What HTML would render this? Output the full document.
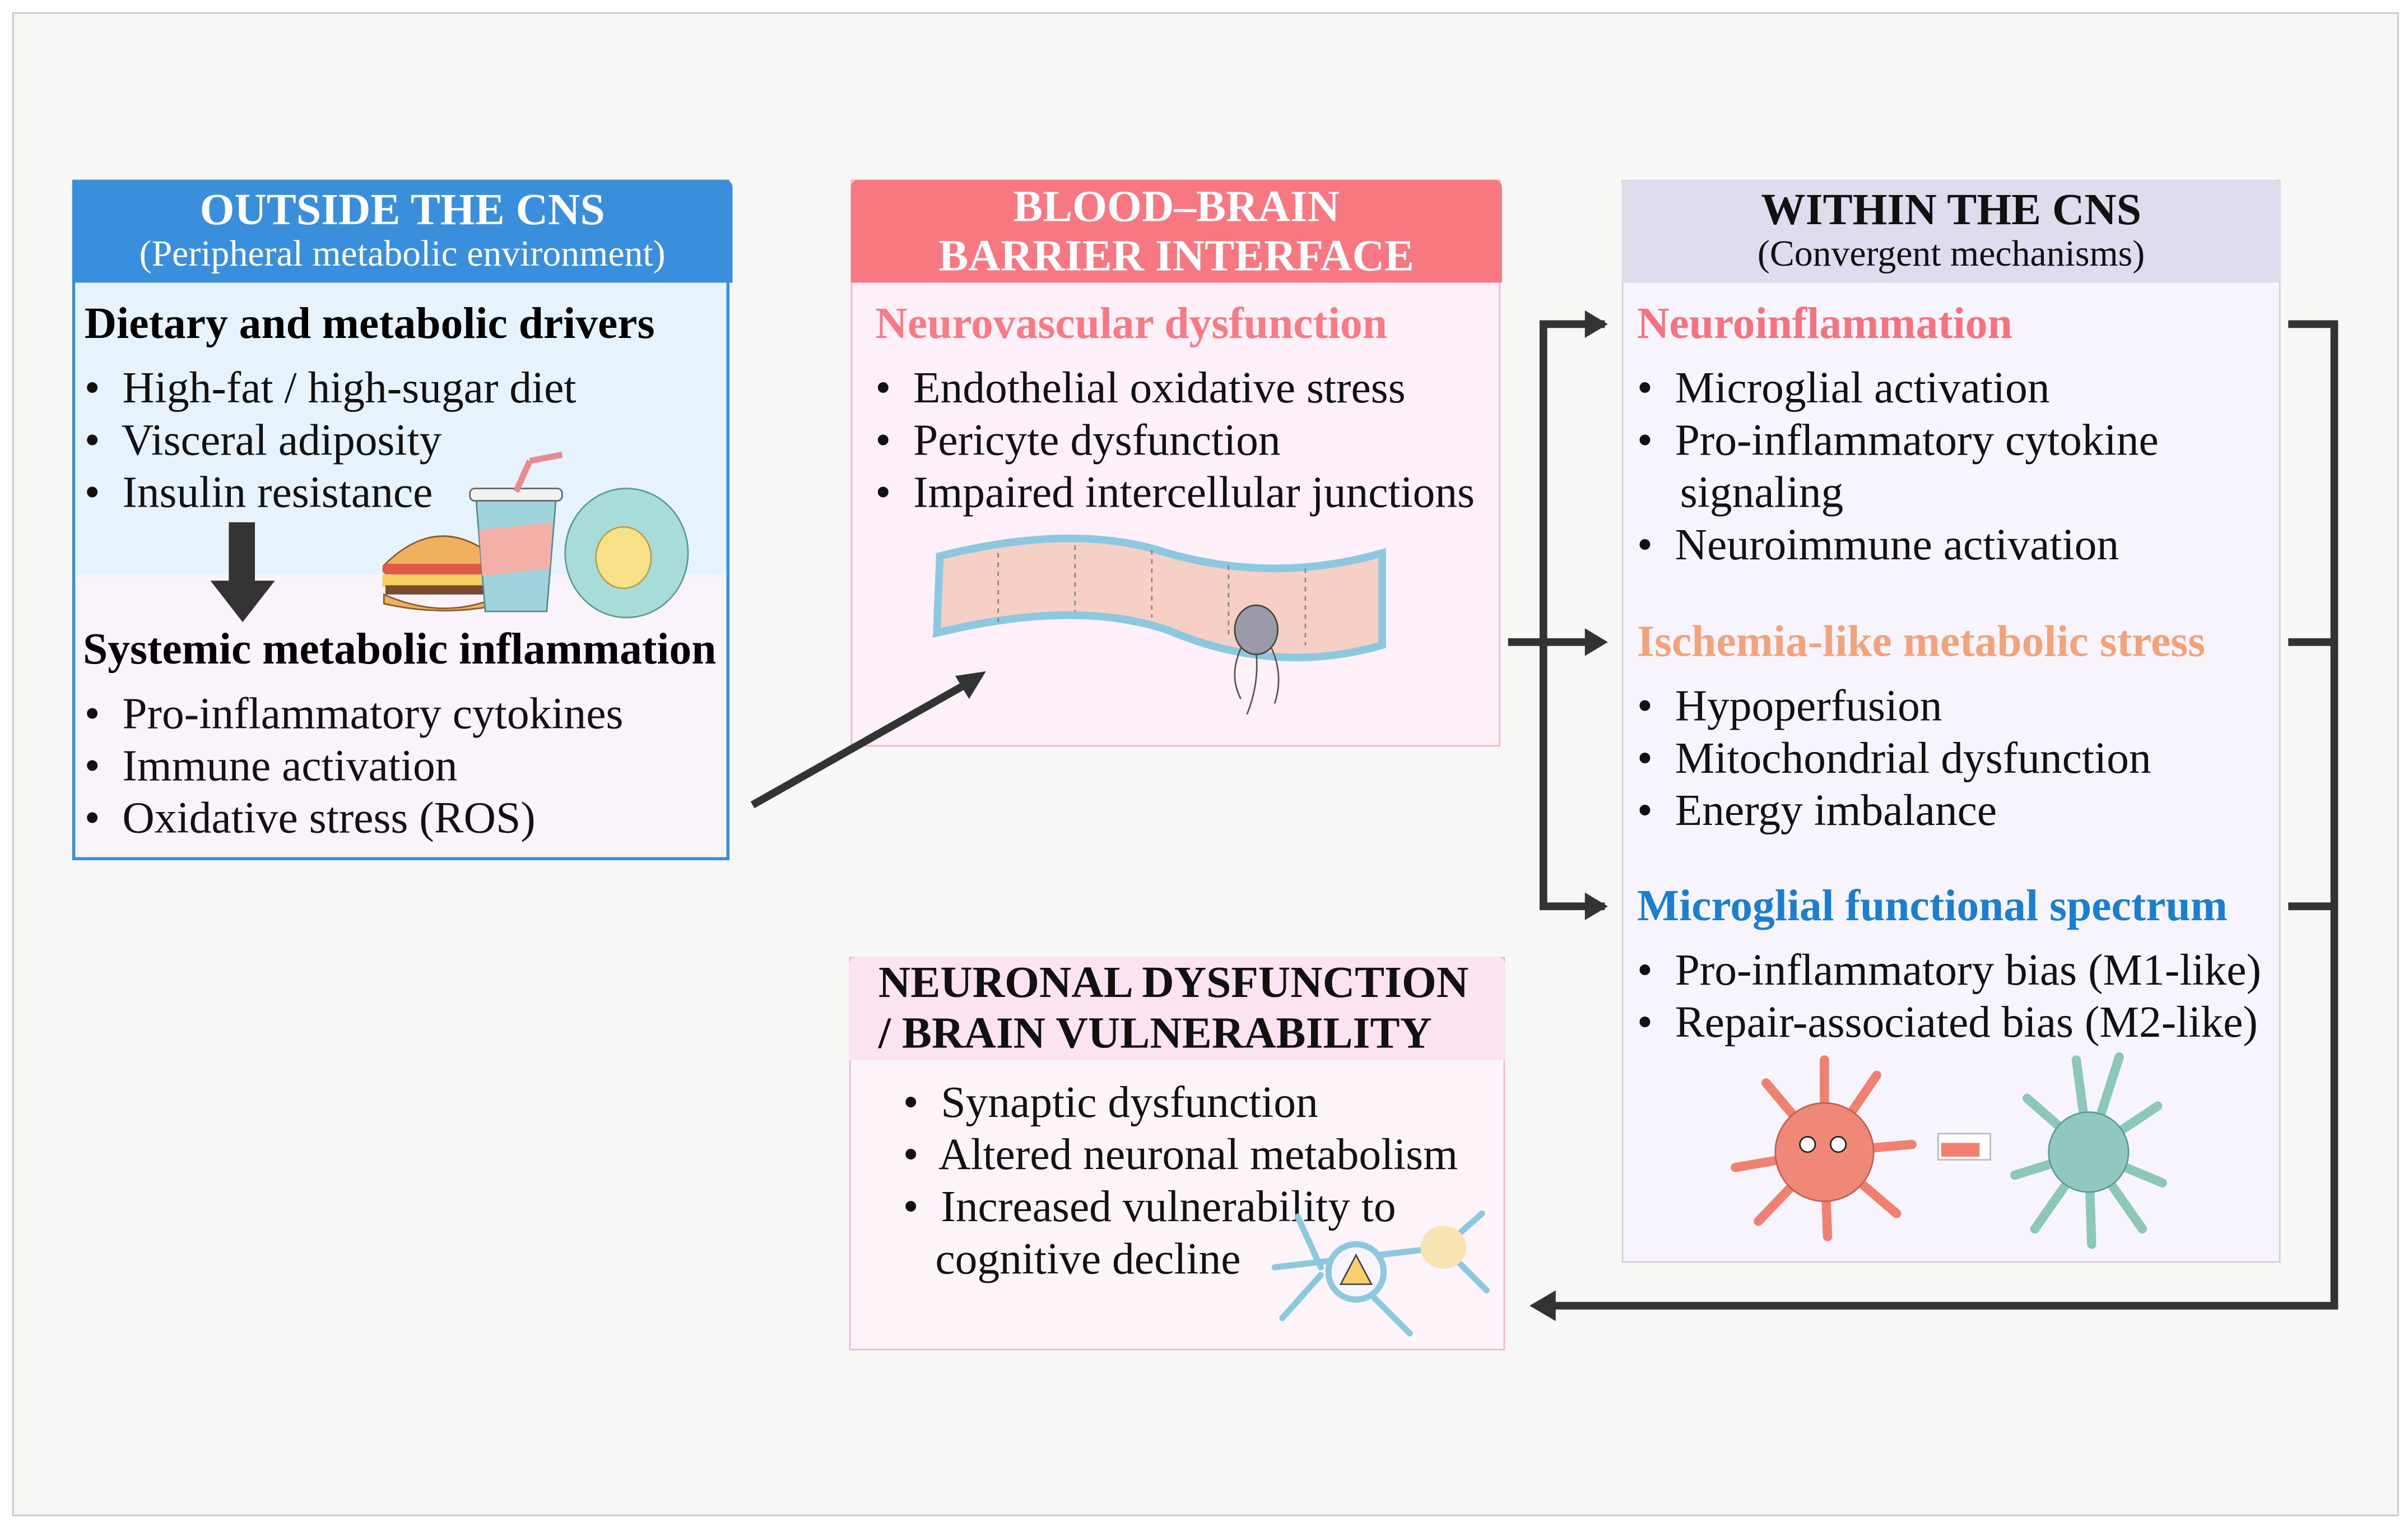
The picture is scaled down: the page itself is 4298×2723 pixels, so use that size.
<!DOCTYPE html>
<html><head><meta charset="utf-8"><style>
html,body{margin:0;padding:0;background:#fff;}
#w{width:4298px;height:2723px;overflow:hidden;position:relative;background:#fff;}
#s{position:absolute;left:0;top:0;width:1568px;height:993px;transform:scale(2.7411);transform-origin:0 0;font-family:"Liberation Serif",serif;}
.a{position:absolute;white-space:nowrap;}
.t{font-size:29px;line-height:34px;color:#111;}
.h{font-size:29px;line-height:34px;font-weight:bold;}
.hd{position:absolute;text-align:center;color:#fff;border-radius:5px 5px 0 0;}
</style></head><body><div id="w"><div id="s">
<div class="a" style="left:8px;top:8px;width:1552px;height:977px;border:1.5px solid #c8c8c8;background:#f7f7f5;"></div>

<!-- Left box -->
<div class="a" style="left:47px;top:117px;width:428px;height:443px;border:2px solid #3a8fdc;box-sizing:border-box;background:#faf3fb;"></div>
<div class="a" style="left:49px;top:184px;width:424px;height:190px;background:#e6f3fc;"></div>
<div class="hd" style="left:47px;top:117px;width:430px;height:67px;background:#3a8fdc;">
<div style="font-size:29px;font-weight:bold;line-height:30px;margin-top:5px;">OUTSIDE THE CNS</div>
<div style="font-size:24px;line-height:28px;">(Peripheral metabolic environment)</div></div>
<div class="a h" style="left:55px;top:194px;">Dietary and metabolic drivers</div>
<div class="a t" style="left:55px;top:236px;">•&nbsp; High-fat / high-sugar diet</div>
<div class="a t" style="left:55px;top:270px;">•&nbsp; Visceral adiposity</div>
<div class="a t" style="left:55px;top:304px;">•&nbsp; Insulin resistance</div>
<div class="a h" style="left:54px;top:406px;">Systemic metabolic inflammation</div>
<div class="a t" style="left:55px;top:448px;">•&nbsp; Pro-inflammatory cytokines</div>
<div class="a t" style="left:55px;top:482px;">•&nbsp; Immune activation</div>
<div class="a t" style="left:55px;top:516px;">•&nbsp; Oxidative stress (ROS)</div>
<svg class="a" style="left:0;top:0" width="1568" height="993">
<rect x="149" y="340" width="17" height="40" fill="#333"/><polygon points="137,378 179,378 158,405" fill="#333"/>
<path d="M250 368 Q288 330 328 368 Z" fill="#f0b060" stroke="#8a5a30"/>
<rect x="249" y="367" width="80" height="7" rx="3" fill="#e05a4a"/>
<rect x="249" y="374" width="80" height="8" fill="#f5d060"/>
<rect x="251" y="381" width="76" height="6" fill="#7a4a30"/>
<path d="M250 387 Q290 405 328 387 L328 393 Q290 402 250 393Z" fill="#f0b060" stroke="#8a5a30"/>
<polygon points="310,325 362,325 356,398 316,398" fill="#9fd4dc" stroke="#5a8a90"/>
<polygon points="312,345 360,340 358,370 314,375" fill="#f4b0a8"/>
<rect x="306" y="318" width="60" height="8" rx="3" fill="#f2f2f2" stroke="#666"/>
<line x1="336" y1="320" x2="345" y2="300" stroke="#e88a90" stroke-width="4"/><line x1="345" y1="300" x2="366" y2="296" stroke="#e88a90" stroke-width="4"/>
<ellipse cx="408" cy="360" rx="40" ry="42" fill="#a8dcd8" stroke="#5a9a98"/>
<ellipse cx="406" cy="363" rx="18" ry="20" fill="#f6e08a" stroke="#b8a050"/>
</svg>

<!-- Middle box -->
<div class="a" style="left:554px;top:117px;width:423px;height:369px;border:1.5px solid #f2b4cc;box-sizing:border-box;background:#fdf0f8;"></div>
<div class="hd" style="left:554px;top:117px;width:424px;height:67px;background:#f77880;">
<div style="font-size:29px;font-weight:bold;line-height:32px;margin-top:2px;">BLOOD–BRAIN<br>BARRIER INTERFACE</div></div>
<div class="a h" style="left:570px;top:194px;color:#f77a85;">Neurovascular dysfunction</div>
<div class="a t" style="left:570px;top:236px;">•&nbsp; Endothelial oxidative stress</div>
<div class="a t" style="left:570px;top:270px;">•&nbsp; Pericyte dysfunction</div>
<div class="a t" style="left:570px;top:304px;">•&nbsp; Impaired intercellular junctions</div>
<svg class="a" style="left:0;top:0" width="1568" height="993">
<path d="M612 362 Q700 340 760 360 Q830 380 900 360 L900 420 Q830 440 760 410 Q700 390 610 412Z" fill="#f6d0c4" stroke="#8cc8e0" stroke-width="5"/>
<g stroke="#888" stroke-dasharray="3,3"><line x1="650" y1="360" x2="650" y2="405"/><line x1="700" y1="355" x2="700" y2="398"/><line x1="750" y1="358" x2="750" y2="402"/><line x1="800" y1="368" x2="800" y2="415"/><line x1="850" y1="370" x2="850" y2="420"/></g>
<ellipse cx="818" cy="410" rx="14" ry="16" fill="#9a9aa8" stroke="#444"/>
<g stroke="#555" fill="none"><path d="M808 422 Q800 440 808 455"/><path d="M818 425 Q820 445 812 465"/><path d="M828 422 Q836 440 830 458"/></g>
</svg>

<!-- Right box -->
<div class="a" style="left:1056px;top:117px;width:429px;height:705px;border:1.5px solid #d4cce8;box-sizing:border-box;background:#f7f4fd;"></div>
<div class="hd" style="left:1056px;top:117px;width:429px;height:67px;background:#e0dcee;color:#111;">
<div style="font-size:29px;font-weight:bold;line-height:30px;margin-top:5px;">WITHIN THE CNS</div>
<div style="font-size:24px;line-height:28px;">(Convergent mechanisms)</div></div>
<div class="a h" style="left:1066px;top:194px;color:#f7727f;">Neuroinflammation</div>
<div class="a t" style="left:1066px;top:236px;">•&nbsp; Microglial activation</div>
<div class="a t" style="left:1066px;top:270px;">•&nbsp; Pro-inflammatory cytokine</div>
<div class="a t" style="left:1094px;top:304px;">signaling</div>
<div class="a t" style="left:1066px;top:338px;">•&nbsp; Neuroimmune activation</div>
<div class="a h" style="left:1066px;top:401px;color:#f4a27a;">Ischemia-like metabolic stress</div>
<div class="a t" style="left:1066px;top:443px;">•&nbsp; Hypoperfusion</div>
<div class="a t" style="left:1066px;top:477px;">•&nbsp; Mitochondrial dysfunction</div>
<div class="a t" style="left:1066px;top:511px;">•&nbsp; Energy imbalance</div>
<div class="a h" style="left:1066px;top:573px;color:#1a7fd0;">Microglial functional spectrum</div>
<div class="a t" style="left:1066px;top:615px;">•&nbsp; Pro-inflammatory bias (M1-like)</div>
<div class="a t" style="left:1066px;top:649px;">•&nbsp; Repair-associated bias (M2-like)</div>
<svg class="a" style="left:0;top:0" width="1568" height="993">
<g stroke="#f08070" stroke-width="6" stroke-linecap="round"><line x1="1188" y1="750" x2="1188" y2="690"/><line x1="1188" y1="750" x2="1150" y2="705"/><line x1="1188" y1="750" x2="1222" y2="700"/><line x1="1188" y1="750" x2="1130" y2="760"/><line x1="1188" y1="750" x2="1245" y2="745"/><line x1="1188" y1="750" x2="1145" y2="795"/><line x1="1188" y1="750" x2="1235" y2="790"/><line x1="1188" y1="750" x2="1190" y2="805"/></g>
<circle cx="1188" cy="750" r="32" fill="#f08878" stroke="#c06050"/>
<circle cx="1177" cy="745" r="5" fill="#fff" stroke="#222"/><circle cx="1197" cy="745" r="5" fill="#fff" stroke="#222"/>
<rect x="1262" y="738" width="34" height="17" fill="#fff" stroke="#bbb"/><rect x="1264" y="744" width="25" height="9" fill="#f08070"/>
<g stroke="#8cc8b8" stroke-width="6" stroke-linecap="round"><line x1="1360" y1="750" x2="1352" y2="690"/><line x1="1360" y1="750" x2="1380" y2="688"/><line x1="1360" y1="750" x2="1320" y2="715"/><line x1="1360" y1="750" x2="1405" y2="720"/><line x1="1360" y1="750" x2="1312" y2="765"/><line x1="1360" y1="750" x2="1408" y2="770"/><line x1="1360" y1="750" x2="1325" y2="800"/><line x1="1360" y1="750" x2="1362" y2="810"/><line x1="1360" y1="750" x2="1395" y2="800"/></g>
<circle cx="1360" cy="750" r="26" fill="#90c8c0" stroke="#5a9a98"/>
</svg>

<!-- Bottom box -->
<div class="a" style="left:553px;top:623px;width:427px;height:256px;border:1.5px solid #f0b8d8;box-sizing:border-box;background:#fdf4fa;"></div>
<div class="a" style="left:553px;top:623px;width:427px;height:67px;background:#fbe3f2;border-radius:5px 5px 0 0;"></div>
<div class="a" style="left:572px;top:624px;font-size:29px;line-height:33px;font-weight:bold;color:#111;">NEURONAL DYSFUNCTION<br>/ BRAIN VULNERABILITY</div>
<div class="a t" style="left:588px;top:701px;">•&nbsp; Synaptic dysfunction</div>
<div class="a t" style="left:588px;top:735px;">•&nbsp; Altered neuronal metabolism</div>
<div class="a t" style="left:588px;top:769px;">•&nbsp; Increased vulnerability to</div>
<div class="a t" style="left:609px;top:803px;">cognitive decline</div>
<svg class="a" style="left:0;top:0" width="1568" height="993">
<g stroke="#8cc8e0" stroke-width="4" fill="none" stroke-linecap="round"><path d="M830 825 L940 812"/><path d="M940 812 L965 790"/><path d="M940 812 L968 840"/><path d="M860 830 L835 858"/><path d="M860 825 L845 792"/><line x1="895" y1="845" x2="918" y2="868"/></g>
<circle cx="883" cy="828" r="18" fill="#f7f4fd" stroke="#8cc8e0" stroke-width="4"/>
<polygon points="883,817 873,836 893,836" fill="#f6d070" stroke="#444"/>
<ellipse cx="940" cy="812" rx="15" ry="14" fill="#f8e4b0"/>
</svg>

<!-- connectors on top -->
<svg class="a" style="left:0;top:0" width="1568" height="993">
<g stroke="#333" stroke-width="5" fill="none">
<line x1="490" y1="524" x2="628" y2="446"/>
<polyline points="1045,211 1005,211 1005,590 1045,590"/>
<line x1="982" y1="418" x2="1040" y2="418"/>
<polyline points="1490,211 1520,211 1520,850 1010,850"/>
<line x1="1490" y1="418" x2="1520" y2="418"/>
<line x1="1490" y1="590" x2="1520" y2="590"/>
</g>
<polygon points="642,437 622,440 631,455" fill="#333"/>
<polygon points="1047,211 1032,202 1032,220" fill="#333"/>
<polygon points="1047,418 1032,409 1032,427" fill="#333"/>
<polygon points="1047,590 1032,581 1032,599" fill="#333"/>
<polygon points="996,850 1013,840 1013,860" fill="#333"/>
</svg>
</div></div></body></html>
